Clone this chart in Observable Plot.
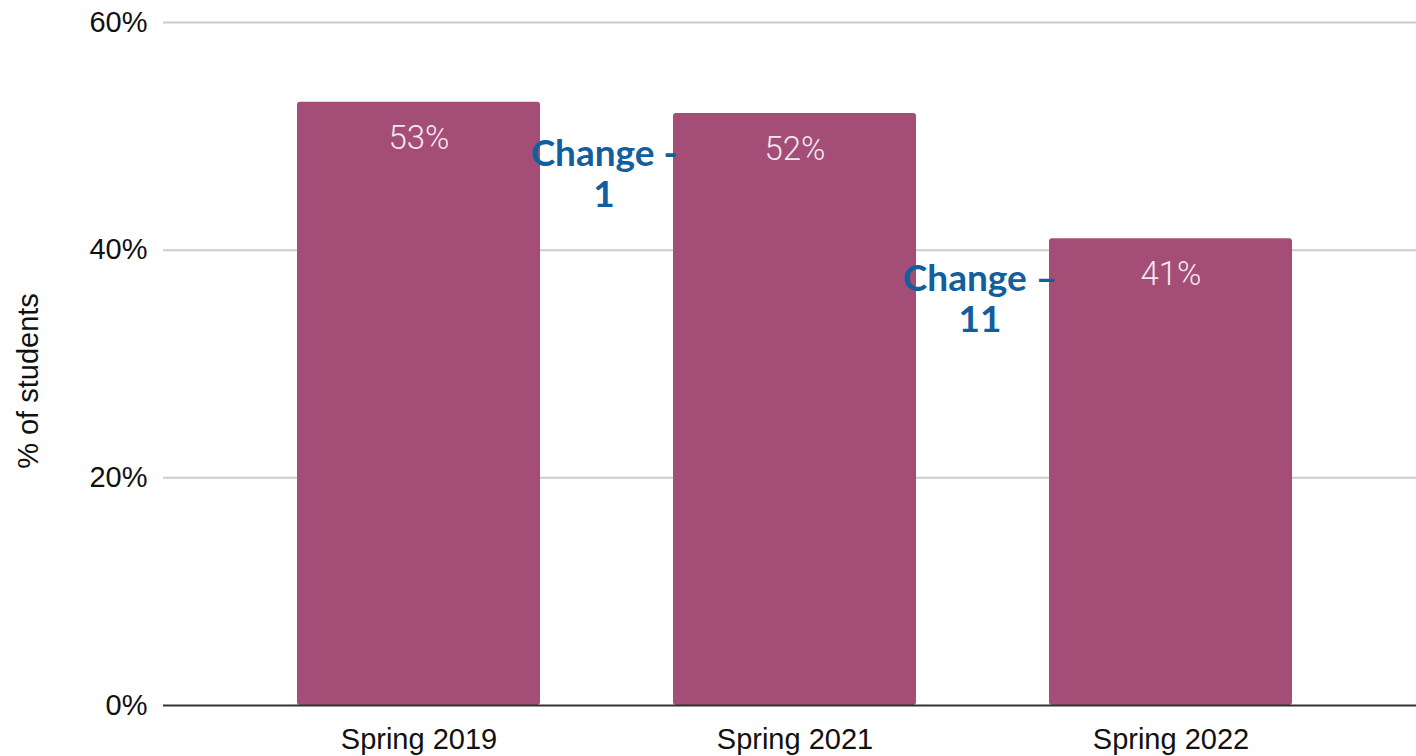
<!DOCTYPE html>
<html>
<head>
<meta charset="utf-8">
<script src="https://cdn.jsdelivr.net/npm/d3@7"></script>
<script src="https://cdn.jsdelivr.net/npm/@observablehq/plot@0.6"></script>
<style>
  html, body { margin: 0; padding: 0; background: #fff; }
  #chart svg { display: block; }
</style>
</head>
<body>
<div id="chart"></div>
<script>
const categories = ["Spring 2019", "Spring 2021", "Spring 2022"];
const values = [53, 52, 41];
const yTicks = [0, 20, 40, 60];
const changeLabels = ["", "Change -\n1", "Change \u2013\n11"];

const data = categories.map((c, i) => ({ term: c, value: values[i], change: changeLabels[i] }));

const chart = Plot.plot({
  width: 1416,
  height: 756,
  marginLeft: 163,
  marginRight: 0,
  marginTop: 22,
  marginBottom: 51,
  style: { fontFamily: "'Liberation Sans', Arial, sans-serif", fontSize: "29px", color: "#111", background: "#fff" },
  x: { domain: categories, label: null, paddingInner: 0.354, paddingOuter: 0.341, align: 0.52, tickSize: 0, tickPadding: 23 },
  y: { domain: [0, 60], ticks: yTicks, tickFormat: d => d + "%", label: null, tickSize: 0, tickPadding: 16 },
  marks: [
    Plot.gridY(yTicks.filter(t => t > 0), { stroke: "#cccccc", strokeWidth: 2, strokeOpacity: 1 }),
    Plot.barY(data, { x: "term", y: "value", fill: "#a34d77", rx: 3 }),
    Plot.ruleY([0], { stroke: "#333", strokeWidth: 2 }),
    Plot.text(data, { x: "term", y: "value", text: d => d.value + "%", dy: 36, fill: "#f4e6ee", fontSize: 33, fontWeight: 300, fontFamily: "Roboto, sans-serif" }),
    Plot.text(data.filter(d => d.change), { x: "term", y: "value", text: "change", dx: -191, dy: 60, fill: "#135e9c", fontSize: 37, fontWeight: "bold", fontFamily: "Lato, 'Liberation Sans', sans-serif", lineHeight: 1.1, lineAnchor: "middle" }),
    Plot.text(["% of students"], { frameAnchor: "left", textAnchor: "middle", rotate: -90, dx: -135, dy: 17, fontSize: 29, fill: "#111" })
  ]
});
document.getElementById("chart").appendChild(chart);
</script>
</body>
</html>
